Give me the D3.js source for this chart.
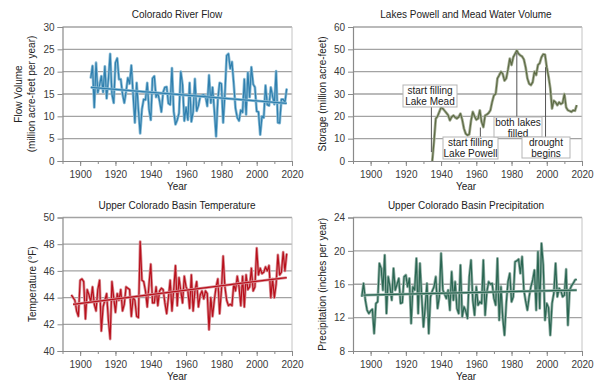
<!DOCTYPE html>
<html>
<head>
<meta charset="utf-8">
<script src="https://cdn.jsdelivr.net/npm/d3@7"></script>
<style>
  html, body { margin: 0; padding: 0; background: #fff; }
  svg { display: block; font-family: "Liberation Sans", Arial, sans-serif; }
</style>
</head>
<body>
<svg id="chart" width="595" height="381"></svg>
<script>
// ---------------- DATA ----------------
const xTickYears = [1900, 1920, 1940, 1960, 1980, 2000, 2020];

// Colorado River Flow (million acre-feet per year), 1906-2017
const flowStart = 1906;
const flowValues = [
  18.5, 21.3, 12.0, 22.0, 15.3, 17.0, 19.0, 15.4, 21.2, 14.0,
  18.3, 24.0, 15.0, 13.0, 22.0, 23.0, 18.3, 18.3, 15.0, 13.0,
  15.5, 18.6, 17.3, 21.4, 14.9, 8.6, 17.5, 11.4, 6.2, 11.6,
  13.8, 13.7, 17.5, 11.6, 9.2, 18.5, 19.0, 14.3, 15.2, 13.4,
  11.0, 15.4, 16.5, 16.6, 12.9, 12.6, 20.8, 11.1, 8.2, 9.2,
  10.7, 20.0, 17.1, 9.0, 12.0, 9.2, 17.5, 8.8, 11.0, 18.4,
  11.2, 12.4, 14.4, 14.7, 14.8, 14.5, 12.3, 19.2, 13.0, 16.5,
  11.4, 5.5, 13.9, 17.5, 17.3, 8.6, 15.1, 23.6, 24.0, 20.7,
  22.2, 17.3, 11.8, 9.7, 9.0, 11.4, 10.9, 18.3, 10.4, 19.8,
  14.3, 21.0, 17.2, 16.5, 11.1, 11.0, 5.9, 10.0, 9.7, 16.9,
  12.6, 12.4, 16.5, 14.5, 12.7, 20.1, 8.6, 8.5, 13.8, 13.8,
  13.1, 16.2
];
const flowTrend = [[1906, 16.5], [2017, 12.9]];
const flowTicks = [0, 5, 10, 15, 20, 25, 30];

// Lakes Powell and Mead storage (million acre-feet), 1935-2017
const storageStart = 1935;
const storageValues = [
  0, 9, 19, 20, 22, 24, 23.5, 22.5, 21.5, 20.5,
  18.2, 19.7, 20.4, 19.5, 19.0, 19.7, 21.2, 18.5, 14.5, 12.2,
  11.5, 12.0, 18.0, 22.0, 20.0, 18.5, 19.0, 22.7, 17.5, 15.2,
  20.4, 20.8, 21.5, 22.7, 26.5, 29.4, 30.0, 37.0, 38.4, 40.0,
  39.0, 36.0, 37.0, 41.0, 45.8, 43.0, 46.5, 48.0, 49.5, 48.0,
  47.3, 46.8, 45.5, 42.0, 37.0, 34.6, 34.0, 35.3, 40.0, 38.5,
  43.0, 43.8, 46.5, 47.8, 47.6, 42.0, 37.8, 32.5, 23.5, 27.0,
  26.3, 25.0, 26.3, 25.5, 26.0, 30.0, 24.0, 22.7, 22.4, 22.0,
  22.7, 22.5, 25.0
];
const storageTicks = [0, 10, 20, 30, 40, 50, 60];
const storageNotes = [
  { lines: ["start filling", "Lake Mead"], year: 1934.5, value: 4, box: "above" },
  { lines: ["start filling", "Lake Powell"], year: 1962.3, value: 15, box: "below" },
  { lines: ["both lakes", "filled"], year: 1983, value: 48.5, box: "below" },
  { lines: ["drought", "begins"], year: 1999.3, value: 42, box: "below" }
];

// Upper Colorado Basin Temperature (°F), 1895-2017
const tempStart = 1895;
const tempValues = [
  44.2, 44.0, 43.8, 43.0, 42.6, 45.3, 45.4, 45.2, 42.4, 44.6,
  44.2, 43.7, 44.8, 43.5, 43.0, 44.6, 45.3, 41.5, 43.3, 43.8,
  44.3, 42.3, 40.9, 45.2, 44.0, 42.9, 44.3, 43.8, 44.6, 43.0,
  43.5, 44.8, 44.7, 44.6, 42.6, 44.0, 43.8, 42.6, 42.5, 48.2,
  45.3, 45.2, 44.5, 43.3, 45.0, 46.5, 43.6, 43.6, 44.8, 43.4,
  44.5, 44.7, 44.6, 43.6, 42.8, 44.0, 45.3, 43.0, 44.6, 46.4,
  43.4, 45.5, 44.5, 43.6, 45.6, 44.8, 44.5, 43.2, 45.7, 43.0,
  44.5, 45.2, 43.3, 44.2, 44.5, 43.9, 44.5, 44.3, 41.6, 44.0,
  42.6, 43.8, 44.8, 45.4, 42.8, 44.5, 47.1, 44.8, 43.8, 43.4,
  43.5, 43.4, 45.0, 44.5, 45.6, 44.8, 43.4, 45.6, 43.3, 45.7,
  44.6, 44.8, 46.2, 44.5, 44.8, 47.7, 45.7, 46.2, 45.8, 45.9,
  46.3, 46.0, 46.4, 44.0, 45.4, 44.0, 45.0, 47.2, 45.7, 45.9,
  47.4, 46.0, 47.3
];
const tempTrend = [[1896, 43.5], [2017, 45.5]];
const tempTicks = [40, 42, 44, 46, 48, 50];

// Upper Colorado Basin Precipitation (inches per year), 1895-2017
const precipStart = 1895;
const precipValues = [
  14.5, 16.1, 14.1, 12.9, 12.5, 12.8, 13.0, 10.1, 13.7, 13.9,
  18.5, 17.9, 15.3, 19.5, 12.5, 16.9, 15.7, 14.1, 17.9, 15.3,
  16.0, 16.7, 13.7, 13.8, 16.9, 17.1, 15.7, 16.7, 11.3, 15.7,
  15.3, 19.1, 12.5, 18.5, 14.5, 10.9, 13.3, 16.1, 10.1, 14.5,
  15.2, 15.7, 16.9, 13.1, 14.5, 19.7, 15.3, 14.8, 14.3, 15.3,
  12.9, 17.5, 14.1, 16.3, 13.1, 12.5, 18.3, 12.1, 13.3, 12.8,
  11.9, 16.9, 18.9, 14.1, 12.3, 15.7, 13.5, 13.9, 13.7, 18.9,
  12.3, 15.1, 16.3, 16.0, 16.1, 14.3, 13.5, 19.1, 11.7, 15.7,
  12.0, 9.9, 13.7, 16.3, 17.3, 13.9, 14.5, 18.7, 18.8, 19.0,
  17.3, 19.3, 15.3, 14.0, 12.9, 14.5, 15.7, 16.5, 17.7, 12.9,
  19.9, 13.1, 20.9, 18.3, 11.7, 13.7, 13.2, 9.9, 13.7, 14.9,
  18.5, 14.5, 15.5, 15.2, 14.5, 14.7, 17.8, 11.1, 15.3, 15.8,
  16.1, 16.5, 16.6
];
const precipTrend = [[1896, 14.7], [2017, 15.3]];
const precipTicks = [8, 12, 16, 20, 24];

// ---------------- DRAW ----------------
const svg = d3.select("#chart");

function toPoints(start, values) {
  return values.map((v, i) => [start + i, v]);
}

function panel(cfg) {
  const g = svg.append("g");
  const x = d3.scaleLinear().domain([1890, 2020]).range([cfg.left, cfg.right]);
  const y = d3.scaleLinear().domain([cfg.ticks[0], cfg.ticks[cfg.ticks.length - 1]]).range([cfg.bottom, cfg.top]);

  // gridlines
  g.append("g").selectAll("line").data(cfg.ticks.slice(1)).join("line")
    .attr("x1", cfg.left).attr("x2", cfg.right)
    .attr("y1", d => y(d)).attr("y2", d => y(d))
    .attr("stroke", "#a3a3a3").attr("stroke-width", 1.3);
  // right frame
  g.append("line").attr("x1", cfg.right).attr("x2", cfg.right)
    .attr("y1", cfg.top).attr("y2", cfg.bottom)
    .attr("stroke", "#c4c4c4").attr("stroke-width", 1);

  // y axis
  const ya = g.append("g").attr("transform", `translate(${cfg.left},0)`)
    .call(d3.axisLeft(y).tickValues(cfg.ticks).tickSize(5).tickPadding(3).tickFormat(d3.format("d")));
  ya.select(".domain").attr("stroke", "#8a8a8a").attr("stroke-width", 1.2);
  ya.selectAll(".tick line").attr("stroke", "#8a8a8a");
  ya.selectAll("text").attr("font-size", 10).attr("fill", "#3a3a3a")
    .attr("font-family", "Liberation Sans, Arial, sans-serif");

  // x axis (minor ticks)
  const xm = g.append("g").attr("transform", `translate(0,${cfg.bottom})`)
    .call(d3.axisBottom(x).tickValues(d3.range(1890, 2021, 10)).tickSize(3).tickFormat(""));
  xm.select(".domain").remove();
  xm.selectAll(".tick line").attr("stroke", "#8a8a8a");
  const xa = g.append("g").attr("transform", `translate(0,${cfg.bottom})`)
    .call(d3.axisBottom(x).tickValues(xTickYears).tickSize(5).tickPadding(5).tickSizeOuter(0).tickFormat(d3.format("d")));
  xa.select(".domain").attr("stroke", "#8a8a8a").attr("stroke-width", 1.2);
  xa.selectAll(".tick line").attr("stroke", "#8a8a8a");
  xa.selectAll("text").attr("font-size", 10).attr("fill", "#3a3a3a")
    .attr("font-family", "Liberation Sans, Arial, sans-serif");

  // data line (halo + core)
  const line = d3.line().x(d => x(d[0])).y(d => y(d[1]));
  const pts = toPoints(cfg.start, cfg.values);
  g.append("path").attr("d", line(pts)).attr("fill", "none")
    .attr("stroke", cfg.halo).attr("stroke-width", 2.8).attr("stroke-linejoin", "round");
  g.append("path").attr("d", line(pts)).attr("fill", "none")
    .attr("stroke", cfg.color).attr("stroke-width", 1.2).attr("stroke-linejoin", "round");

  if (cfg.trend) {
    g.append("path").attr("d", line(cfg.trend)).attr("fill", "none")
      .attr("stroke", cfg.halo).attr("stroke-width", 2.8);
    g.append("path").attr("d", line(cfg.trend)).attr("fill", "none")
      .attr("stroke", cfg.color).attr("stroke-width", 1.3);
  }

  // title
  g.append("text").attr("x", cfg.titleX).attr("y", cfg.top - 9)
    .attr("text-anchor", "middle").attr("font-size", 10).attr("fill", "#222")
    .text(cfg.title);
  // x label
  g.append("text").attr("x", cfg.titleX).attr("y", cfg.bottom + 29)
    .attr("text-anchor", "middle").attr("font-size", 10).attr("fill", "#222")
    .text("Year");
  // y label
  const cy = (cfg.top + cfg.bottom) / 2;
  cfg.ylabel.forEach((t, i) => {
    const lx = cfg.ylabelX + i * 12.5;
    g.append("text").attr("transform", `translate(${lx},${cy}) rotate(-90)`)
      .attr("text-anchor", "middle").attr("font-size", 10).attr("fill", "#222")
      .text(t);
  });
  return { g, x, y };
}

panel({
  left: 62.5, right: 292, top: 27, bottom: 161,
  ticks: flowTicks, start: flowStart, values: flowValues, trend: flowTrend,
  color: "#2f7fae", halo: "#8dbdd6",
  title: "Colorado River Flow", titleX: 177,
  ylabel: ["Flow Volume", "(million acre-feet per year)"], ylabelX: 22
});

const tr = panel({
  left: 353, right: 582, top: 27, bottom: 161,
  ticks: storageTicks, start: storageStart, values: storageValues, trend: null,
  color: "#5d6b45", halo: "#a7af98",
  title: "Lakes Powell and Mead Water Volume", titleX: 466,
  ylabel: ["Storage (million acre-feet)"], ylabelX: 326
});

panel({
  left: 62.5, right: 292, top: 217.5, bottom: 351,
  ticks: tempTicks, start: tempStart, values: tempValues, trend: tempTrend,
  color: "#b8101c", halo: "#d99096",
  title: "Upper Colorado Basin Temperature", titleX: 177,
  ylabel: ["Temperature (°F)"], ylabelX: 36
});

panel({
  left: 353, right: 582, top: 217.5, bottom: 351,
  ticks: precipTicks, start: precipStart, values: precipValues, trend: precipTrend,
  color: "#2a6652", halo: "#93b0a6",
  title: "Upper Colorado Basin Precipitation", titleX: 466,
  ylabel: ["Precipitation (inches per year)"], ylabelX: 326
});

// annotations on storage panel
const boxGeom = [
  { x0: 403, x1: 457, y0: 85, y1: 107 },
  { x0: 443, x1: 498, y0: 137, y1: 159 },
  { x0: 494, x1: 542, y0: 117, y1: 137 },
  { x0: 522, x1: 570, y0: 137, y1: 158 }
];
storageNotes.forEach((n, i) => {
  const b = boxGeom[i];
  const px = tr.x(n.year), py = tr.y(n.value);
  const ly = n.box === "above" ? b.y1 : b.y0;
  tr.g.append("line").attr("x1", px).attr("x2", px).attr("y1", py).attr("y2", ly)
    .attr("stroke", "#555").attr("stroke-width", 1);
  tr.g.append("rect").attr("x", b.x0).attr("y", b.y0)
    .attr("width", b.x1 - b.x0).attr("height", b.y1 - b.y0)
    .attr("fill", "#fff").attr("stroke", "#b5b5b5").attr("stroke-width", 1);
  n.lines.forEach((t, k) => {
    tr.g.append("text").attr("x", (b.x0 + b.x1) / 2).attr("y", b.y0 + 9 + k * 10.5)
      .attr("text-anchor", "middle").attr("font-size", 10).attr("fill", "#222").text(t);
  });
});
</script>
</body>
</html>
